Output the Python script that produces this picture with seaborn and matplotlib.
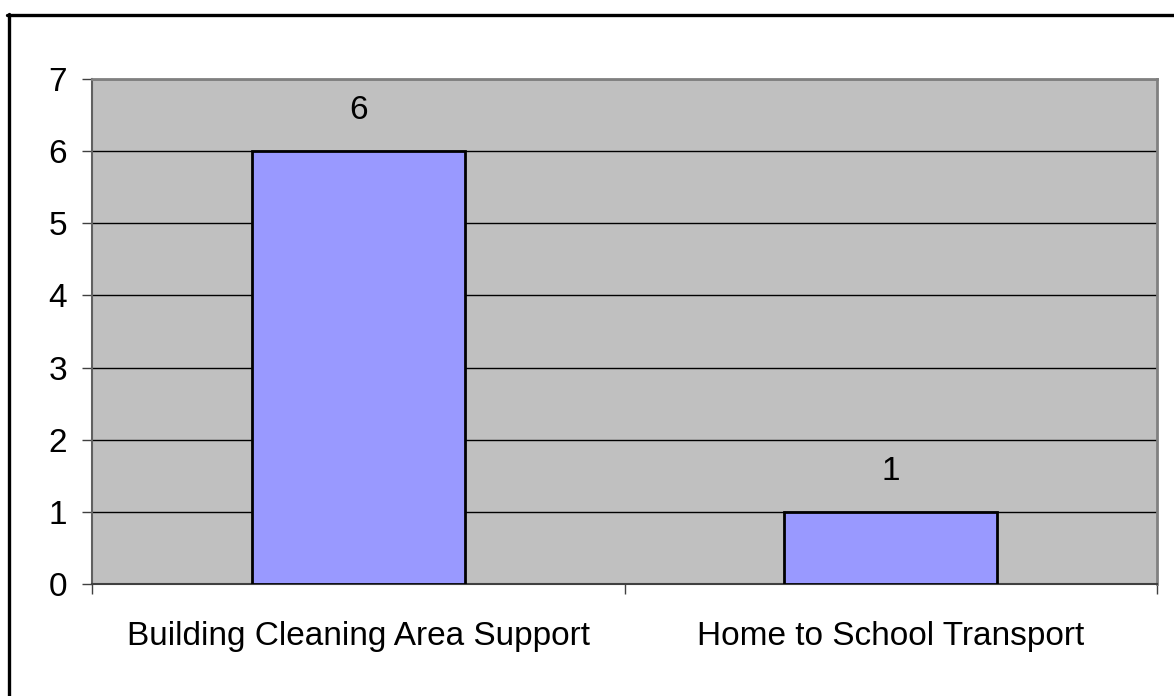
import matplotlib
matplotlib.use("Agg")
import matplotlib.pyplot as plt
import seaborn as sns
import pandas as pd
from matplotlib.lines import Line2D

# data
categories = ["Building Cleaning Area Support", "Home to School Transport"]
counts = [6, 1]

df = pd.DataFrame({"category": categories, "count": counts})

sns.set_style("white")
plt.rcParams["font.family"] = ["Liberation Sans", "DejaVu Sans"]
plt.rcParams["text.color"] = "black"
plt.rcParams["xtick.color"] = "black"
plt.rcParams["ytick.color"] = "black"

W, H = 1174, 696
fig = plt.figure(figsize=(W / 100, H / 100), dpi=100)
ax = fig.add_axes([92 / W, 1 - 584 / H, (1157 - 92) / W, (584 - 79) / H])
ax.set_facecolor("#C0C0C0")

sns.barplot(data=df, x="category", y="count", ax=ax, width=0.4,
            color="#9999FF", edgecolor="black", linewidth=2, saturation=1,
            zorder=3)

ax.set_ylim(0, 7)
ax.set_xlim(-0.5, 1.5)
ax.set_yticks(range(0, 8))
ax.yaxis.grid(True, color="black", linewidth=1)
ax.set_axisbelow(True)

# value labels
for i, v in enumerate(counts):
    ax.annotate(str(v), (i, v), xytext=(0, 18), textcoords="offset points",
                ha="center", va="bottom", fontsize=24, color="black", zorder=4)

# ticks: y ticks outward, x ticks at category boundaries
ax.tick_params(axis="y", direction="out", length=7, width=1, color="#404040",
               labelsize=24, labelcolor="black", pad=11, left=True)
ax.set_xticks([-0.5, 0.5, 1.5], minor=True)
ax.tick_params(axis="x", which="minor", direction="out", length=7, width=1,
               color="#404040", bottom=True)
ax.tick_params(axis="x", which="major", length=0, labelsize=24,
               labelcolor="black", pad=27)

ax.set_xlabel("")
ax.set_ylabel("")

for side in ["top", "right"]:
    ax.spines[side].set_color("#808080")
    ax.spines[side].set_linewidth(2)
ax.spines["left"].set_color("#606060")
ax.spines["left"].set_linewidth(1.5)
ax.spines["bottom"].set_color("#404040")
ax.spines["bottom"].set_linewidth(1.5)

# outer border of the chart (only top and left visible in the picture)
fig.add_artist(Line2D([7 / W, 1.0], [1 - 15 / H, 1 - 15 / H],
                      transform=fig.transFigure, color="black", linewidth=2.4))
fig.add_artist(Line2D([9 / W, 9 / W], [0.0, 1 - 14 / H],
                      transform=fig.transFigure, color="black", linewidth=2.4))

fig.savefig("out.png", dpi=100, facecolor="white")
